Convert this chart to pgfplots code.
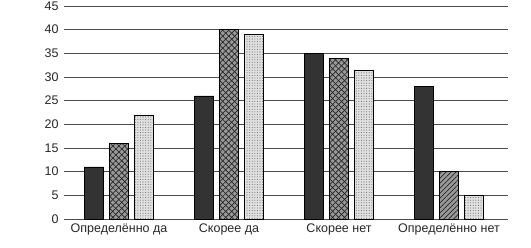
\documentclass[border=0pt]{standalone}
\usepackage{pgfplots}
\pgfplotsset{compat=1.18}
\usepackage{fontspec}
\setmainfont{Liberation Sans}
\usetikzlibrary{patterns.meta}
\begin{document}
\begin{tikzpicture}
\path[use as bounding box] (-64pt,-28pt) rectangle (467pt,219pt);
\begin{axis}[
  at={(0,0)}, anchor=south west,
  scale only axis,
  width=444pt, height=213pt,
  xmin=-0.5, xmax=3.536,
  ymin=0, ymax=45,
  ytick={0,5,...,45},
  xtick={0,1,2,3},
  xticklabels={Определённо да, Скорее да, Скорее нет, Определённо нет},
  axis line style={draw=none},
  major tick length=0pt,
  ymajorgrids,
  grid style={draw=black!70, line width=0.9pt},
  tick label style={font=\fontsize{12.5}{14}\selectfont, text=black!85},
  /pgf/number format/assume math mode=true,
  yticklabel style={xshift=-2pt},
  xticklabel style={yshift=-1pt},
  ybar, bar width=19.5pt,
  clip=false,
]
\addplot[bar shift=-25pt, draw=black, fill=black!80, line width=0.6pt] coordinates {(0,11) (1,26) (2,35) (3,28)};
\addplot[bar shift=0pt, draw=black, fill=black!40,
  postaction={pattern={Lines[angle=45, distance=4.2pt, line width=0.7pt]}, pattern color=black!85},
  postaction={pattern={Lines[angle=-45, distance=4.2pt, line width=0.7pt]}, pattern color=black!85},
  line width=0.6pt] coordinates {(0,16) (1,40) (2,34)};
\addplot[bar shift=0pt, draw=black, fill=black!40,
  postaction={pattern={Lines[angle=45, distance=3.5pt, line width=0.7pt]}, pattern color=black!85},
  line width=0.6pt] coordinates {(3,10)};
\addplot[bar shift=25pt, draw=black, fill=black!12,
  postaction={pattern={Dots[distance=2.6pt, radius=0.55pt]}, pattern color=black!55},
  line width=0.6pt] coordinates {(0,22) (1,39) (2,31.4) (3,5)};
\end{axis}
\end{tikzpicture}
\end{document}
